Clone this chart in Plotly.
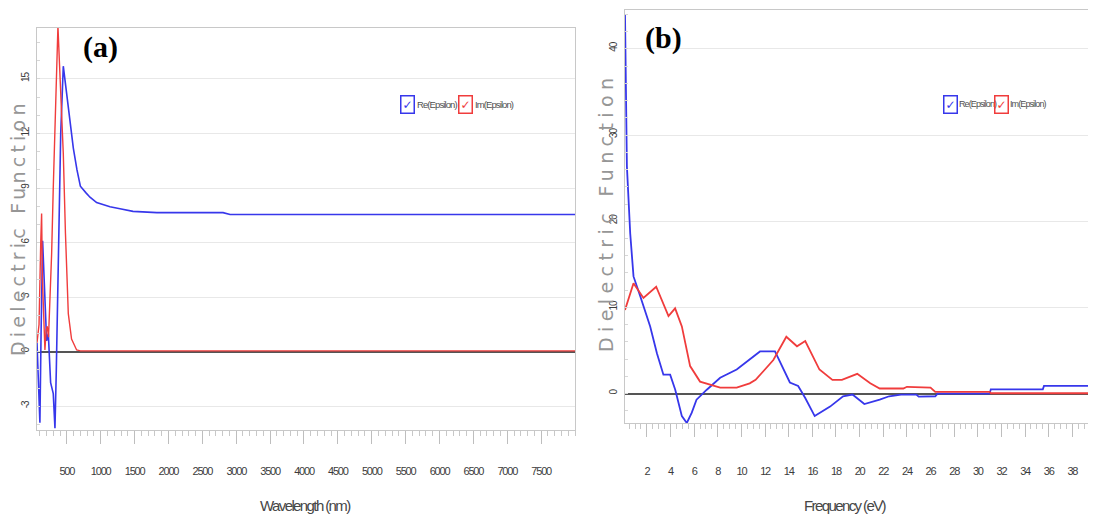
import plotly.graph_objects as go

# page body adds an 8px margin, so the figure is drawn 8px in from the window edge
OFF = 8
W, H = 1096 - OFF, 527 - OFF

# ---------------- Panel (a): dielectric function vs wavelength ----------------
wl_re = [60, 80, 103, 120, 143, 160, 177, 202, 227, 261, 300, 325, 345, 374, 410, 448,
         520, 596, 650, 700, 780, 842, 940, 1137, 1285, 1477, 1830, 2806, 2910, 8000]
eps_re_a = [0.5, -1.5, -3.9, 1.0, 6.1, 4.5, 3.0, 0.6, 1.0, -1.7, -2.3, -4.2, -1.0, 5.4, 12.0, 15.7,
            13.5, 11.2, 10.0, 9.1, 8.75, 8.5, 8.2, 7.97, 7.86, 7.72, 7.65, 7.65, 7.55, 7.55]

wl_im = [60, 90, 115, 128, 140, 160, 177, 195, 211, 230, 250, 276, 300, 325, 350, 369,
         390, 420, 448, 480, 522, 570, 645, 700, 8000]
eps_im_a = [0.5, 1.5, 6.0, 7.6, 4.0, 1.0, 0.1, 1.2, 1.4, 0.8, 2.5, 5.4, 9.0, 12.7, 16.5, 17.9,
            16.0, 13.5, 10.9, 6.5, 2.1, 0.7, 0.1, 0.05, 0.05]

a_xticks = [500, 1000, 1500, 2000, 2500, 3000, 3500, 4000, 4500, 5000, 5500, 6000, 6500, 7000, 7500]
a_yticks = [-3, 0, 3, 6, 9, 12, 15]

# ---------------- Panel (b): dielectric function vs photon energy ----------------
ev_re = [0.15, 0.31, 0.59, 0.87, 1.44, 2.28, 2.85, 3.4, 3.97, 4.4, 4.96, 5.38, 5.8, 6.2, 7.07,
         8.2, 9.6, 11.0, 11.57, 12.84, 14.1, 14.8, 15.4, 16.2, 17.5, 18.6, 19.4, 20.4, 21.7,
         22.5, 23.5, 24.8, 25.0, 26.4, 26.6, 31.0, 31.1, 35.5, 35.6, 40.5]
eps_re_b = [44.0, 26.4, 18.6, 13.6, 11.3, 7.8, 4.7, 2.2, 2.2, 0.46, -2.6, -3.4, -2.2, -0.7, 0.46,
            1.85, 2.8, 4.3, 4.9, 4.9, 1.3, 0.9, -0.5, -2.6, -1.5, -0.3, -0.1, -1.2, -0.7,
            -0.3, -0.1, -0.1, -0.35, -0.3, 0.0, 0.0, 0.5, 0.5, 0.9, 0.9]

ev_im = [0.15, 0.87, 1.71, 2.79, 3.83, 4.39, 4.96, 5.66, 6.5, 8.2, 9.6, 10.7, 11.2, 12.7, 13.8,
         14.7, 15.4, 16.6, 17.7, 18.5, 19.8, 20.9, 21.7, 23.7, 24.0, 26.0, 26.4, 31.0, 31.1, 40.5]
eps_im_b = [9.7, 12.8, 11.1, 12.4, 9.0, 9.9, 7.8, 3.2, 1.4, 0.7, 0.7, 1.2, 1.6, 3.9, 6.6,
            5.5, 6.1, 2.8, 1.6, 1.6, 2.3, 1.2, 0.6, 0.6, 0.8, 0.7, 0.2, 0.2, 0.05, 0.05]

b_xticks = list(range(2, 42, 2))
b_yticks = [0, 10, 20, 30, 40]

series_names = ["Re(Epsilon)", "Im(Epsilon)"]
BLUE = "rgb(55,55,235)"
RED = "rgb(240,60,60)"

NARROW = "Liberation Sans, Arial, sans-serif"


def px(x):
    return (x - OFF) / W


def py(y):
    return 1 - (y - OFF) / H


def squeeze(txt, sp):
    return '<span style="letter-spacing:%spx">%s</span>' % (sp, txt)


fig = go.Figure()
fig.add_trace(go.Scatter(x=wl_re, y=eps_re_a, mode="lines", line=dict(color=BLUE, width=1.6),
                         xaxis="x", yaxis="y", showlegend=False, name=series_names[0]))
fig.add_trace(go.Scatter(x=wl_im, y=eps_im_a, mode="lines", line=dict(color=RED, width=1.4),
                         xaxis="x", yaxis="y", showlegend=False, name=series_names[1]))
fig.add_trace(go.Scatter(x=ev_re, y=eps_re_b, mode="lines", line=dict(color=BLUE, width=1.8),
                         xaxis="x2", yaxis="y2", showlegend=False, name=series_names[0]))
fig.add_trace(go.Scatter(x=ev_im, y=eps_im_b, mode="lines", line=dict(color=RED, width=1.8),
                         xaxis="x2", yaxis="y2", showlegend=False, name=series_names[1]))

TICKFONT = dict(family=NARROW, size=11, color="rgb(60,60,60)")
AXLINE = "rgb(200,200,200)"
GRID = "rgb(232,232,232)"


def xaxis_cfg(domain, rng, ticks, minor_dtick, anchor, standoff):
    return dict(domain=domain, range=rng, anchor=anchor, automargin=False,
                tickmode="array", tickvals=ticks,
                ticktext=[squeeze(str(t), -1.2) for t in ticks], showgrid=False, zeroline=False,
                showline=True, linecolor=AXLINE, linewidth=1, mirror=True,
                ticks="outside", ticklen=13, tickcolor="rgb(190,190,190)", tickwidth=1,
                minor=dict(ticks="outside", dtick=minor_dtick, ticklen=5,
                           tickcolor="rgb(200,200,200)", showgrid=False),
                tickfont=TICKFONT, ticklabelstandoff=standoff)


def yaxis_cfg(domain, rng, ticks, minor_dtick, anchor):
    return dict(domain=domain, range=rng, anchor=anchor, automargin=False,
                tickmode="array", tickvals=ticks,
                ticktext=[squeeze(str(t), -1.0) for t in ticks], showgrid=True, gridcolor=GRID,
                gridwidth=1, zeroline=True, zerolinecolor="rgb(85,85,85)", zerolinewidth=2,
                showline=True, linecolor=AXLINE, linewidth=1, mirror=True,
                ticks="", minor=dict(ticks="inside", dtick=minor_dtick, ticklen=3,
                                     tickcolor="rgb(215,215,215)", showgrid=False),
                tickangle=-90, tickfont=dict(family=NARROW, size=10, color="rgb(60,60,60)"),
                ticklabelstandoff=3)


fig.update_layout(
    width=W, height=H, margin=dict(l=0, r=0, t=0, b=0),
    paper_bgcolor="white", plot_bgcolor="white",
    xaxis=xaxis_cfg([px(37), px(575)], [60, 8000], a_xticks, 100, "y", 18),
    yaxis=yaxis_cfg([py(430), py(28)], [-4.3, 17.8], a_yticks, 1, "x"),
    xaxis2=xaxis_cfg([px(625), 1.0], [0.15, 40.0], b_xticks, 0.5, "y2", 25),
    yaxis2=yaxis_cfg([py(423), py(10)], [-3.4, 44.5], b_yticks, 2, "x2"),
)

annotations = []


def ann(x, y, text, font, **kw):
    d = dict(x=px(x), y=py(y), xref="paper", yref="paper", text=text, showarrow=False,
             xanchor="center", yanchor="middle", font=font)
    d.update(kw)
    annotations.append(d)


# panel labels
LBLFONT = dict(family="Liberation Serif, Times New Roman, serif", size=30, color="black")
ann(100, 47, "<b>(a)</b>", LBLFONT)
ann(663, 38, "<b>(b)</b>", LBLFONT)

# y-axis titles
YTFONT = dict(family="DejaVu Sans, Verdana, sans-serif", size=19, color="rgb(150,150,150)")
ann(18, 228, squeeze("Dielectric Function", 4.2), YTFONT, textangle=-90)
ann(606, 213, squeeze("Dielectric Function", 5.4), YTFONT, textangle=-90)

# x-axis titles
XTFONT = dict(family=NARROW, size=15, color="rgb(70,70,70)")
ann(305, 505, squeeze("Wavelength (nm)", -1.6), XTFONT)
ann(845, 505, squeeze("Frequency (eV)", -1.6), XTFONT)

# checkbox-style legends
CHECKFONT = 12


def add_legend(x0, ycen, gap_text, gap_item, fsize, sp):
    xs = x0
    for name, col in zip(series_names, [BLUE, RED]):
        ann(xs, ycen, "✓", dict(family="DejaVu Sans", size=CHECKFONT, color=col),
            bordercolor=col, borderwidth=1.5, borderpad=1)
        ann(xs + gap_text, ycen, squeeze(name, sp),
            dict(family=NARROW, size=fsize, color="rgb(80,80,80)"), xanchor="left")
        xs += gap_item


add_legend(407, 104, 8, 58, 9.5, -0.9)
add_legend(950, 104, 7, 51, 9, -0.9)

fig.update_layout(annotations=annotations)
fig.write_html("out.html")
